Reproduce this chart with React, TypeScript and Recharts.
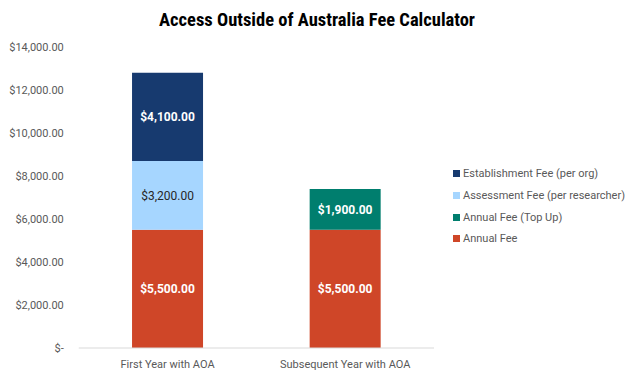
import { BarChart, Bar, XAxis, YAxis, LabelList } from "recharts";

const categories = ["First Year with AOA", "Subsequent Year with AOA"];
const annualFee = [5500, 5500];
const annualTopUp = [null, 1900];
const assessmentFee = [3200, null];
const establishmentFee = [4100, null];
const yTicks = [0, 2000, 4000, 6000, 8000, 10000, 12000, 14000];

const data = categories.map((name, i) => ({
  name,
  annual: annualFee[i],
  topUp: annualTopUp[i],
  assessment: assessmentFee[i],
  establishment: establishmentFee[i],
}));

const series = [
  { key: "annual", label: "Annual Fee", color: "#CF4628", text: "#FFFFFF", bold: true },
  { key: "topUp", label: "Annual Fee (Top Up)", color: "#007E6E", text: "#FFFFFF", bold: true },
  { key: "assessment", label: "Assessment Fee (per researcher)", color: "#A6D6FF", text: "#262626", bold: false },
  { key: "establishment", label: "Establishment Fee (per org)", color: "#173A6F", text: "#FFFFFF", bold: true },
];

const font = "Roboto, 'Liberation Sans', sans-serif";

const money = (v: number) =>
  v === 0
    ? "$-"
    : "$" + v.toLocaleString("en-US", { minimumFractionDigits: 2, maximumFractionDigits: 2 });

function LegendBox() {
  return (
    <div
      style={{
        position: "absolute",
        left: 453,
        top: 163,
        fontFamily: font,
        fontSize: 11,
        color: "#595959",
      }}
    >
      {[...series].reverse().map((s) => (
        <div key={s.key} style={{ display: "flex", alignItems: "center", height: 21.7 }}>
          <span style={{ width: 7, height: 7, background: s.color, marginRight: 3, display: "inline-block" }} />
          {s.label}
        </div>
      ))}
    </div>
  );
}

export default function App() {
  return (
    <div style={{ position: "fixed", left: 0, top: 0, width: 634, height: 379, background: "#fff" }}>
      <div
        style={{
          position: "absolute",
          top: 9,
          left: 0,
          width: 634,
          textAlign: "center",
          fontFamily: "'Liberation Sans Narrow', 'Roboto Condensed', Roboto, sans-serif",
          fontWeight: "bold",
          fontSize: 18.5,
          color: "#000",
        }}
      >
        Access Outside of Australia Fee Calculator
      </div>
      <BarChart
        width={634}
        height={379}
        data={data}
        margin={{ top: 47, right: 200, bottom: 0, left: 0 }}
        barCategoryGap="30%"
      >
        <XAxis
          dataKey="name"
          height={31}
          interval={0}
          tickLine={false}
          tickMargin={6}
          axisLine={{ stroke: "#D9D9D9" }}
          tick={{ fill: "#595959", fontSize: 11, fontFamily: font }}
        />
        <YAxis
          width={78.75}
          domain={[0, 14000]}
          ticks={yTicks}
          axisLine={false}
          tickLine={false}
          tickMargin={9}
          tickFormatter={money}
          tick={{ fill: "#595959", fontSize: 11, fontFamily: font }}
        />
        {series.map((s) => (
          <Bar key={s.key} dataKey={s.key} name={s.label} stackId="a" fill={s.color} isAnimationActive={false}>
            <LabelList
              dataKey={s.key}
              position="center"
              formatter={(v: any) => (v == null ? "" : money(Number(v)))}
              fill={s.text}
              fontSize={12}
              fontWeight={s.bold ? "bold" : "normal"}
              fontFamily={font}
            />
          </Bar>
        ))}
      </BarChart>
      <LegendBox />
    </div>
  );
}
